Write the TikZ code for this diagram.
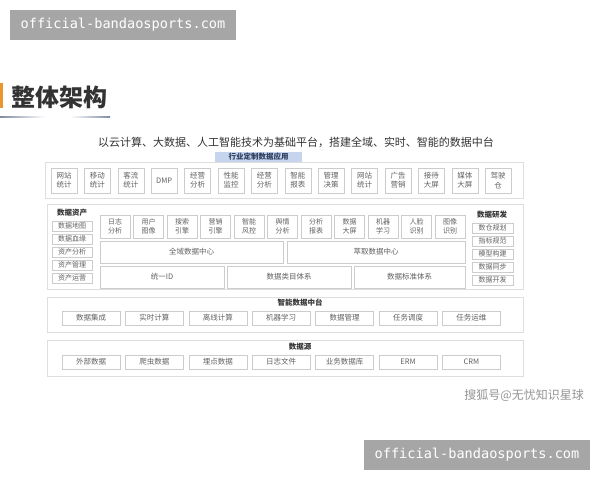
\documentclass[tikz,border=0pt]{standalone}
\usepackage{fontspec}
\setmainfont{Noto Sans CJK SC}
\newfontfamily\wmfont{DejaVu Sans Mono}
\definecolor{wmgray}{HTML}{A6A6A6}
\definecolor{tagblue}{HTML}{C6D4EE}
\definecolor{tagtext}{HTML}{2F3E5C}
\definecolor{barorange}{HTML}{E8962E}
\definecolor{linegray}{HTML}{7D8BA3}
\tikzset{
  outerbox/.style={draw=black!13, line width=0.7pt, fill=white, inner sep=0pt},
  cell/.style={draw=black!20, line width=0.6pt, fill=white, inner sep=0pt, align=center,
    font=\fontsize{7}{8.6}\selectfont, text=black!62},
  bigcell/.style={cell, font=\fontsize{7.5}{9.2}\selectfont},
  sectitle/.style={font=\bfseries\fontsize{7.5}{9}\selectfont, text=black!80, inner sep=0pt},
  wmbox/.style={fill=wmgray, text=white, inner sep=0pt, font=\wmfont\fontsize{13.6}{15}\selectfont},
}
\newcommand\mkbox[7][]{\node[#1,minimum width={#5-#3},minimum height={#6-#4}] (#2) at ({(#3+#5)/2},{(#4+#6)/2}) {#7};}
\begin{document}
\begin{tikzpicture}[x=1pt,y=-1pt]
\useasboundingbox (0,0) rectangle (600,480);
\fill[white] (0,0) rectangle (600,480);
% watermark top
\mkbox[wmbox]{wmtop}{10}{10}{236}{40}{official-bandaosports.com}
% title
\fill[barorange] (0,83) rectangle (3,108);
\node[anchor=west, inner sep=0pt, font=\bfseries\fontsize{24}{26}\selectfont, text=black!80] (title) at (11,97) {整体架构};
\shade[left color=linegray, right color=white] (0,116) rectangle (45,117.5);
\shade[left color=white, right color=linegray] (70,116) rectangle (110,117.5);
% subtitle
\node[inner sep=0pt, font=\fontsize{11}{13}\selectfont, text=black!80] (sub) at (296,142) {以云计算、大数据、人工智能技术为基础平台，搭建全域、实时、智能的数据中台};
% top application row
\mkbox[outerbox]{apps}{45}{162}{523}{198}{}
\mkbox[fill=tagblue, inner sep=0pt, font=\bfseries\fontsize{7.5}{9}\selectfont, text=tagtext]{tag}{215}{152}{302}{162}{行业定制数据应用}
\foreach \t [count=\i from 0] in {{网站\\统计},{移动\\统计},{客流\\统计},{DMP},{经营\\分析},{性能\\监控},{经营\\分析},{智能\\报表},{管理\\决策},{网站\\统计},{广告\\营销},{接待\\大屏},{媒体\\大屏},{驾驶\\仓}}
  \node[bigcell, minimum width=26pt, minimum height=25pt] (t\i) at ({64+33.4*\i},180.5) {\t};
% middle block
\mkbox[outerbox]{mid}{47}{204}{523}{289}{}
\node[sectitle] (assetT) at (72,213) {数据资产};
\foreach \t [count=\i from 0] in {数据地图,数据血缘,资产分析,资产管理,资产运营}
  \node[cell, minimum width=40pt, minimum height=10pt] (a\i) at (72,{226+13*\i}) {\t};
\node[sectitle] (devT) at (492,215) {数据研发};
\foreach \t [count=\i from 0] in {数仓规划,指标规范,模型构建,数据同步,数据开发}
  \node[cell, minimum width=41pt, minimum height=10pt] (d\i) at (492.5,{228+13*\i}) {\t};
\foreach \t [count=\i from 0] in {{日志\\分析},{用户\\图像},{搜索\\引擎},{营销\\引擎},{智能\\风控},{舆情\\分析},{分析\\报表},{数据\\大屏},{机器\\学习},{人脸\\识别},{图像\\识别}}
  \node[cell, minimum width=30pt, minimum height=23pt] (m\i) at ({115+33.5*\i},226.5) {\t};
\mkbox[bigcell]{qy}{100}{241}{283}{263}{全域数据中心}
\mkbox[bigcell]{cq}{287}{241}{465}{263}{萃取数据中心}
\mkbox[bigcell]{id}{100}{266}{224}{288}{统一ID}
\mkbox[bigcell]{lm}{227}{266}{351}{288}{数据类目体系}
\mkbox[bigcell]{bz}{354}{266}{465}{288}{数据标准体系}
% intelligent data middle platform
\mkbox[outerbox]{ai}{47}{297}{523}{332}{}
\node[sectitle] (aiT) at (300,303) {智能数据中台};
\foreach \t [count=\i from 0] in {数据集成,实时计算,离线计算,机器学习,数据管理,任务调度,任务运维}
  \node[bigcell, minimum width=58pt, minimum height=14pt] (p\i) at ({91+63.4*\i},318) {\t};
% data sources
\mkbox[outerbox]{src}{47}{340}{523}{376}{}
\node[sectitle] (srcT) at (300,347) {数据源};
\foreach \t [count=\i from 0] in {外部数据,爬虫数据,埋点数据,日志文件,业务数据库,ERM,CRM}
  \node[bigcell, minimum width=58pt, minimum height=14pt] (s\i) at ({91+63.4*\i},362) {\t};
% credit
\node[anchor=east, inner sep=0pt, font=\fontsize{12}{14}\selectfont, text=black!42] (credit) at (584,395) {搜狐号@无忧知识星球};
% watermark bottom
\mkbox[wmbox]{wmbot}{364}{440}{590}{470}{official-bandaosports.com}
\end{tikzpicture}
\end{document}
